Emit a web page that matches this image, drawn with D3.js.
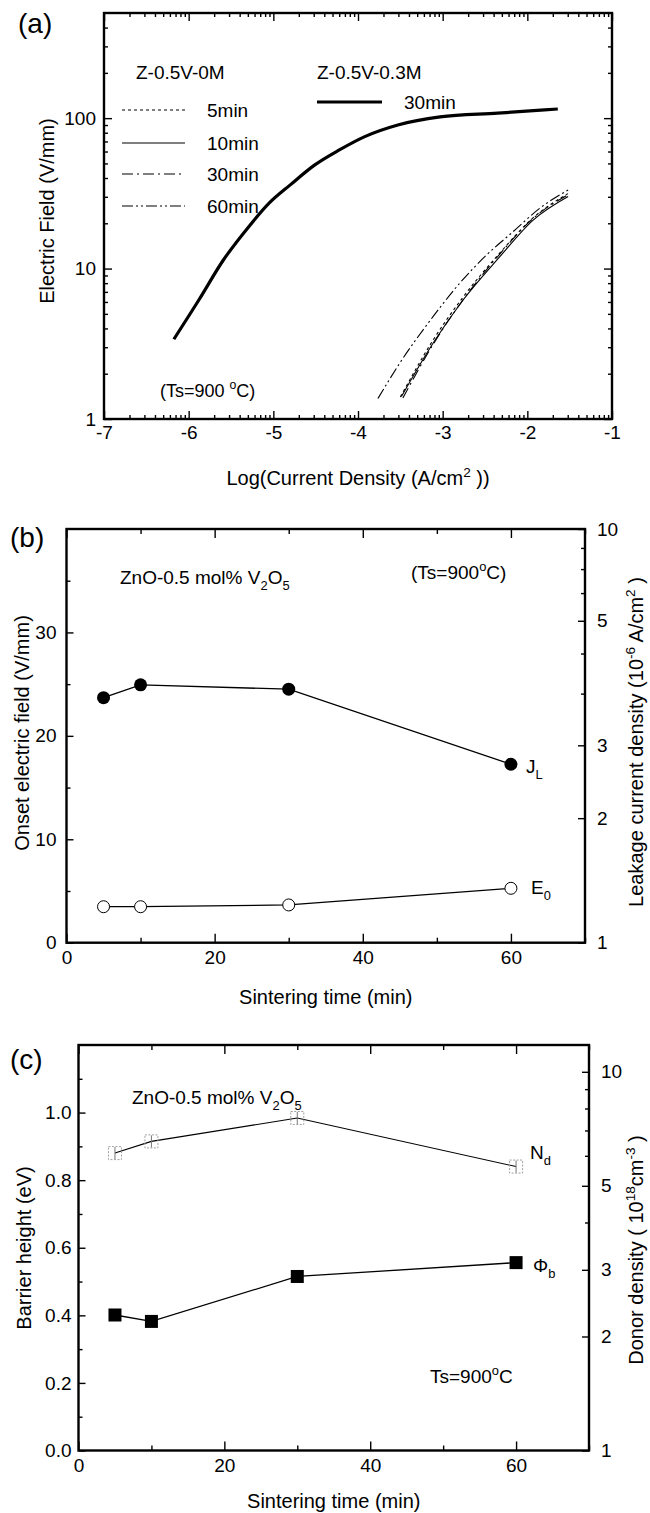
<!DOCTYPE html>
<html><head><meta charset="utf-8">
<script src="https://cdn.jsdelivr.net/npm/d3@7"></script>
<style>body{margin:0;background:#fff}</style>
</head><body>
<svg id="c" width="650" height="1513" xmlns="http://www.w3.org/2000/svg"></svg>
<script>
// ---------------- DATA ----------------
// Panel (a): E–J curves (x = log J, y = E in V/mm)
const seriesA_names = ["5min","10min","30min","60min"];
const logJ_0M_5  = [-3.50,-3.12,-2.76,-2.33,-1.93,-1.52];
const E_0M_5     = [1.40,3.30,6.45,12.6,21.8,31.5];
const logJ_0M_10 = [-3.487,-3.114,-2.759,-2.325,-1.931,-1.518];
const E_0M_10    = [1.41,3.19,6.18,12.0,21.0,30.1];
const logJ_0M_30 = [-3.47,-3.10,-2.75,-2.33,-1.93,-1.52];
const E_0M_30    = [1.38,3.22,6.30,12.4,21.6,31.0];
const logJ_0M_60 = [-3.764,-3.507,-3.114,-2.80,-2.482,-2.168,-1.852,-1.518];
const E_0M_60    = [1.37,2.35,4.79,7.98,12.3,17.6,25.2,33.3];
const logJ_03M_30 = [-6.175,-5.88,-5.59,-5.29,-5.05,-4.80,-4.51,-4.22,-3.92,-3.53,-3.03,-2.35,-1.64];
const E_03M_30    = [3.39,6.18,11.4,19.0,27.2,36,48.9,61.5,75.4,90.1,102,108,115];
const xTicksA = [-7,-6,-5,-4,-3,-2,-1];
const yTicksA = [1,10,100];

// Panel (b)
const timesB = [5,10,30,60];
const E0 = [3.48,3.48,3.65,5.26];          // V/mm, left axis
const JL = [3.91,4.20,4.10,2.70];          // 1e-6 A/cm2, right log axis
const xTicksB = [0,20,40,60];
const yTicksB = [0,10,20,30];
const rTickValsB = [1,2,3,6,10];
const rTickLabelsB = ["1","2","3","5","10"];

// Panel (c)
const timesC = [5,10,30,60];
const phiB = [0.401,0.382,0.515,0.556];   // eV, left axis
const Nd   = [6.10,6.55,7.55,5.62];       // 1e18 cm-3, right log axis
const xTicksC = [0,20,40,60];
const yTicksC = [0,0.2,0.4,0.6,0.8,1.0];
const rTicksC = [1,2,3,5,10];

// ---------------- HELPERS ----------------
const FONT = '"Liberation Sans", Arial, Helvetica, sans-serif';
const svg = d3.select('#c');

function addAxis(g, axis, transform, fs) {
  const a = g.append('g').attr('transform', transform).call(axis);
  a.select('.domain').remove();
  a.selectAll('line').attr('stroke', '#000').attr('stroke-width', 1.4);
  a.selectAll('text').attr('font-size', fs || 18).attr('font-family', FONT).attr('fill', '#000');
  return a;
}
function rich(g, x, y, parts, size, anchor, rot) {
  const t = g.append('text').attr('font-size', size).attr('font-family', FONT)
    .attr('fill', '#000').attr('text-anchor', anchor || 'start');
  if (rot) t.attr('transform', `translate(${x},${y}) rotate(-90)`);
  else t.attr('x', x).attr('y', y);
  let shift = 0;
  parts.forEach(p => {
    const s = p[0], k = p[1];
    const target = k === 'sub' ? size * 0.32 : k === 'sup' ? -size * 0.42 : 0;
    const ts = t.append('tspan').text(s).attr('dy', target - shift);
    if (k) ts.attr('font-size', size * 0.68);
    shift = target;
  });
  return t;
}
function frame(g, x0, x1, y0, y1) {
  g.append('rect').attr('x', x0).attr('y', y0).attr('width', x1 - x0).attr('height', y1 - y0)
    .attr('fill', 'none').attr('stroke', '#000').attr('stroke-width', 2.4);
}
const zip = (a, b) => a.map((v, i) => [v, b[i]]);

// ---------------- PANEL (a) ----------------
{
  const L = 104, R = 612, T = 13, B = 419;
  const x = d3.scaleLinear().domain([-7, -1]).range([L, R]);
  const y = d3.scaleLog().domain([1, 500]).range([B, T]);
  const g = svg.append('g');
  const xMinor = [];
  for (let i = -7; i < -1; i++) for (let k = 2; k < 10; k++) xMinor.push(i + Math.log10(k));
  const yMinor = [];
  [1, 10, 100].forEach(d => { for (let k = 2; k < 10; k++) if (d * k < 500) yMinor.push(d * k); });

  addAxis(g, d3.axisBottom(x).tickValues(xTicksA).tickSize(-8).tickPadding(7).tickFormat(d => String(d)), `translate(0,${B})`, 19);
  addAxis(g, d3.axisBottom(x).tickValues(xMinor).tickSize(-4).tickFormat(''), `translate(0,${B})`);
  addAxis(g, d3.axisTop(x).tickValues(xTicksA).tickSize(-8).tickFormat(''), `translate(0,${T})`);
  addAxis(g, d3.axisTop(x).tickValues(xMinor).tickSize(-4).tickFormat(''), `translate(0,${T})`);
  addAxis(g, d3.axisLeft(y).tickValues(yTicksA).tickSize(-8).tickPadding(8).tickFormat(d => String(d)), `translate(${L},0)`, 19);
  addAxis(g, d3.axisLeft(y).tickValues(yMinor).tickSize(-4).tickFormat(''), `translate(${L},0)`);
  addAxis(g, d3.axisRight(y).tickValues(yTicksA).tickSize(-8).tickFormat(''), `translate(${R},0)`);
  addAxis(g, d3.axisRight(y).tickValues(yMinor).tickSize(-4).tickFormat(''), `translate(${R},0)`);
  frame(g, L, R, T, B);

  const line = d3.line().x(d => x(d[0])).y(d => y(d[1])).curve(d3.curveMonotoneX);
  const styles = [
    { d: zip(logJ_0M_5, E_0M_5), dash: '3,3', w: 1.1 },
    { d: zip(logJ_0M_10, E_0M_10), dash: null, w: 1.1 },
    { d: zip(logJ_0M_30, E_0M_30), dash: '11,4,2,4', w: 1.1 },
    { d: zip(logJ_0M_60, E_0M_60), dash: '11,3,2,3,2,3', w: 1.1 },
  ];
  styles.forEach(s => {
    g.append('path').attr('d', line(s.d)).attr('fill', 'none').attr('stroke', '#000')
      .attr('stroke-width', s.w).attr('stroke-dasharray', s.dash);
  });
  g.append('path').attr('d', line(zip(logJ_03M_30, E_03M_30))).attr('fill', 'none')
    .attr('stroke', '#000').attr('stroke-width', 3.2);

  // legend
  rich(g, 136, 79, [['Z-0.5V-0M']], 19);
  rich(g, 317, 79, [['Z-0.5V-0.3M']], 19);
  const ly = [110, 143, 174, 206];
  styles.forEach((s, i) => {
    g.append('line').attr('x1', 122).attr('x2', 185).attr('y1', ly[i]).attr('y2', ly[i])
      .attr('stroke', '#000').attr('stroke-width', 1.1).attr('stroke-dasharray', s.dash);
    rich(g, 207, ly[i] + 7, [[seriesA_names[i]]], 19);
  });
  g.append('line').attr('x1', 317).attr('x2', 382).attr('y1', 102).attr('y2', 102)
    .attr('stroke', '#000').attr('stroke-width', 3.2);
  rich(g, 404, 109, [['30min']], 19);
  rich(g, 160, 397, [['(Ts=900 '], ['o', 'sup'], ['C)']], 18);

  rich(g, 18, 33, [['(a)']], 28);
  rich(g, (L + R) / 2, 485, [['Log(Current Density (A/cm'], ['2', 'sup'], [' ))']], 20, 'middle');
  rich(g, 54, 211, [['Electric Field (V/mm)']], 20, 'middle', true);
}

// ---------------- PANEL (b) ----------------
{
  const L = 66.5, R = 585, T = 529, B = 942.7;
  const x = d3.scaleLinear().domain([0, 70]).range([L, R]);
  const y = d3.scaleLinear().domain([0, 40]).range([B, T]);
  const yr = d3.scaleLog().domain([1, 10]).range([B, T]);
  const g = svg.append('g');
  const xMinor = [10, 30, 50, 70];
  const yMinor = [5, 15, 25, 35];
  const rMinor = [4, 5, 7, 8, 9];

  addAxis(g, d3.axisBottom(x).tickValues(xTicksB).tickSize(-9).tickPadding(8).tickFormat(d => String(d)), `translate(0,${B})`, 19);
  addAxis(g, d3.axisBottom(x).tickValues(xMinor).tickSize(-5).tickFormat(''), `translate(0,${B})`);
  addAxis(g, d3.axisTop(x).tickValues(xTicksB).tickSize(-9).tickFormat(''), `translate(0,${T})`);
  addAxis(g, d3.axisTop(x).tickValues(xMinor).tickSize(-5).tickFormat(''), `translate(0,${T})`);
  addAxis(g, d3.axisLeft(y).tickValues(yTicksB).tickSize(-7).tickPadding(10).tickFormat(d => String(d)), `translate(${L},0)`, 19);
  addAxis(g, d3.axisLeft(y).tickValues(yMinor).tickSize(-4).tickFormat(''), `translate(${L},0)`);
  addAxis(g, d3.axisRight(yr).tickValues(rTickValsB).tickSize(-7).tickPadding(12)
    .tickFormat((d, i) => rTickLabelsB[i]), `translate(${R},0)`, 19);
  addAxis(g, d3.axisRight(yr).tickValues(rMinor).tickSize(-4).tickFormat(''), `translate(${R},0)`);
  frame(g, L, R, T, B);

  const lineL = d3.line().x(d => x(d[0])).y(d => y(d[1]));
  const lineR = d3.line().x(d => x(d[0])).y(d => yr(d[1]));
  g.append('path').attr('d', lineR(zip(timesB, JL))).attr('fill', 'none').attr('stroke', '#000').attr('stroke-width', 1.3);
  g.append('path').attr('d', lineL(zip(timesB, E0))).attr('fill', 'none').attr('stroke', '#000').attr('stroke-width', 1.3);
  g.selectAll('.jl').data(zip(timesB, JL)).join('circle').attr('cx', d => x(d[0])).attr('cy', d => yr(d[1]))
    .attr('r', 6.5).attr('fill', '#000');
  g.selectAll('.e0').data(zip(timesB, E0)).join('circle').attr('cx', d => x(d[0])).attr('cy', d => y(d[1]))
    .attr('r', 6).attr('fill', '#fff').attr('stroke', '#000').attr('stroke-width', 1);

  rich(g, 526, yr(JL[3]) + 9, [['J'], ['L', 'sub']], 19);
  rich(g, 531, y(E0[3]) + 6, [['E'], ['0', 'sub']], 19);
  rich(g, 120, 584, [['ZnO-0.5 mol% V'], ['2', 'sub'], ['O'], ['5', 'sub']], 19);
  rich(g, 411, 579, [['(Ts=900'], ['o', 'sup'], ['C)']], 19);
  rich(g, 10, 547, [['(b)']], 28);
  rich(g, (L + R) / 2, 1004, [['Sintering time (min)']], 20, 'middle');
  rich(g, 29, 733, [['Onset electric field (V/mm)']], 20, 'middle', true);
  rich(g, 643, 742, [['Leakage current density (10'], ['-6', 'sup'], [' A/cm'], ['2', 'sup'], [' )']], 20, 'middle', true);
}

// ---------------- PANEL (c) ----------------
{
  const L = 78.5, R = 589, T = 1045, B = 1450.5;
  const x = d3.scaleLinear().domain([0, 70]).range([L, R]);
  const y = d3.scaleLinear().domain([0, 1.2]).range([B, T]);
  const yr = d3.scaleLog().domain([1, 11.77]).range([B, T]);
  const g = svg.append('g');
  const xMinor = [10, 30, 50, 70];
  const yMinor = [0.1, 0.3, 0.5, 0.7, 0.9, 1.1];
  const rMinor = [4, 6, 7, 8, 9];

  addAxis(g, d3.axisBottom(x).tickValues(xTicksC).tickSize(-9).tickPadding(8).tickFormat(d => String(d)), `translate(0,${B})`, 19);
  addAxis(g, d3.axisBottom(x).tickValues(xMinor).tickSize(-5).tickFormat(''), `translate(0,${B})`);
  addAxis(g, d3.axisTop(x).tickValues(xTicksC).tickSize(-9).tickFormat(''), `translate(0,${T})`);
  addAxis(g, d3.axisTop(x).tickValues(xMinor).tickSize(-5).tickFormat(''), `translate(0,${T})`);
  addAxis(g, d3.axisLeft(y).tickValues(yTicksC).tickSize(-7).tickPadding(7).tickFormat(d3.format('.1f')), `translate(${L},0)`, 19);
  addAxis(g, d3.axisLeft(y).tickValues(yMinor).tickSize(-4).tickFormat(''), `translate(${L},0)`);
  addAxis(g, d3.axisRight(yr).tickValues(rTicksC).tickSize(-7).tickPadding(12).tickFormat(d => String(d)), `translate(${R},0)`, 19);
  addAxis(g, d3.axisRight(yr).tickValues(rMinor).tickSize(-4).tickFormat(''), `translate(${R},0)`);
  frame(g, L, R, T, B);

  const lineL = d3.line().x(d => x(d[0])).y(d => y(d[1]));
  const lineR = d3.line().x(d => x(d[0])).y(d => yr(d[1]));
  g.append('path').attr('d', lineR(zip(timesC, Nd))).attr('fill', 'none').attr('stroke', '#000').attr('stroke-width', 1.1);
  g.append('path').attr('d', lineL(zip(timesC, phiB))).attr('fill', 'none').attr('stroke', '#000').attr('stroke-width', 1.3);
  // Nd markers: faint dotted open squares with error bars
  const nd = g.selectAll('.nd').data(zip(timesC, Nd)).join('g')
    .attr('transform', d => `translate(${x(d[0])},${yr(d[1])})`);
  nd.append('rect').attr('x', -6.5).attr('y', -6.5).attr('width', 13).attr('height', 13)
    .attr('fill', 'none').attr('stroke', '#a0a0a0').attr('stroke-width', 1).attr('stroke-dasharray', '2,1.5');
  nd.append('line').attr('x1', 0).attr('x2', 0).attr('y1', -6).attr('y2', 6).attr('stroke', '#777').attr('stroke-width', 1);
  g.selectAll('.pb').data(zip(timesC, phiB)).join('rect')
    .attr('x', d => x(d[0]) - 6.5).attr('y', d => y(d[1]) - 6.5).attr('width', 13).attr('height', 13).attr('fill', '#000');

  rich(g, 530, yr(Nd[3]) - 8, [['N'], ['d', 'sub']], 19);
  rich(g, 533, y(phiB[3]) + 9, [['Φ'], ['b', 'sub']], 19);
  rich(g, 132, 1104, [['ZnO-0.5 mol% V'], ['2', 'sub'], ['O'], ['5', 'sub']], 19);
  rich(g, 430, 1383, [['Ts=900'], ['o', 'sup'], ['C']], 19);
  rich(g, 10, 1069, [['(c)']], 28);
  rich(g, (L + R) / 2, 1508, [['Sintering time (min)']], 20, 'middle');
  rich(g, 31, 1248, [['Barrier height (eV)']], 20, 'middle', true);
  rich(g, 643, 1250, [['Donor density ( 10'], ['18', 'sup'], ['cm'], ['-3', 'sup'], [' )']], 20, 'middle', true);
}
</script>
</body></html>
